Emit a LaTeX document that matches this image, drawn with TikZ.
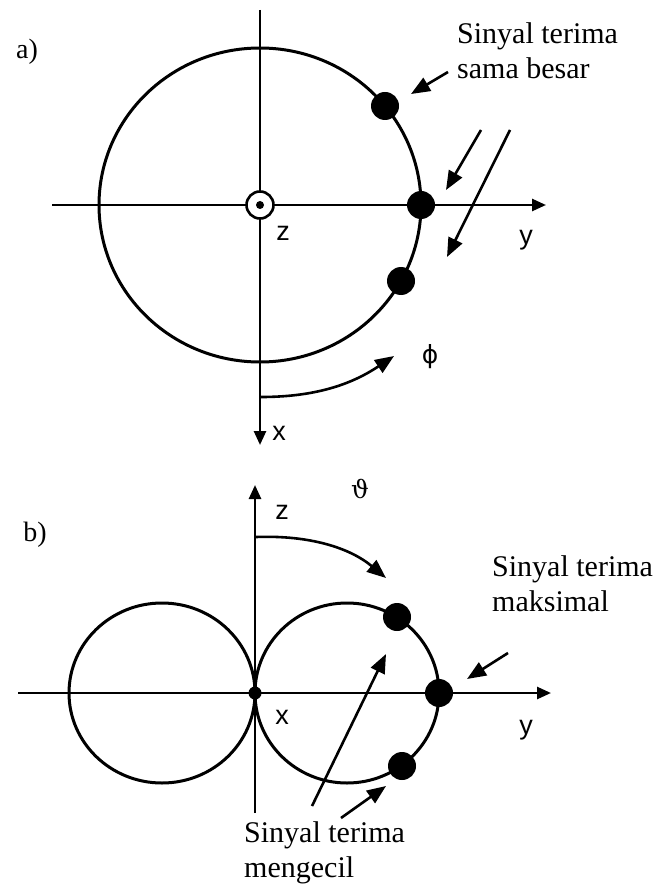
\documentclass[tikz,border=0pt]{standalone}
\usepackage{fontspec}
\setmainfont{Liberation Serif}
\newfontfamily\axfont{Liberation Sans}
\newfontfamily\grkserif{DejaVu Serif}
\newfontfamily\grksans{DejaVu Sans}
\usetikzlibrary{arrows.meta, positioning, calc}

\begin{document}
\begin{tikzpicture}[x=1pt,y=-1pt,
	axis/.style={line width=2.6pt,-{Triangle[length=14pt,width=12pt]}},
	lobe/.style={line width=3pt},
	ptr/.style={line width=2.6pt,-{Triangle[length=19pt,width=15pt]}},
	hit/.style={circle,fill=black,inner sep=0pt,minimum size=28pt},
	note/.style={font=\fontsize{30}{35}\selectfont,align=left,inner sep=0pt,anchor=north west},
	axlab/.style={font=\axfont\fontsize{27}{27}\selectfont,inner sep=0pt},
	tag/.style={font=\fontsize{28}{28}\selectfont,inner sep=0pt}]
	\useasboundingbox (0,0) rectangle (666,890);
	% a) azimut
	\coordinate (oa) at (260,205);
	\coordinate (ya0) at (52,205);
	\coordinate (ya1) at (546,205);
	\coordinate (xa0) at (260,10);
	\coordinate (xa1) at (260,445);
	\draw[axis] (ya0) -- (ya1);
	\draw[axis] (xa0) -- (xa1);
	\draw[lobe] (oa) ellipse[x radius=161,y radius=157];
	\node[circle,draw,line width=2.6pt,fill=white,minimum size=27pt,inner sep=0pt] (zdot) at (oa) {};
	\fill (zdot.center) circle (4);
	\node[hit] (a1) at (385,106) {};
	\node[hit] (a2) at (421,205) {};
	\node[hit] (a3) at (401,281) {};
	\node[axlab] (za) at (283,233) {z};
	\node[axlab] (ya) at (526,240) {y};
	\node[axlab] (xa) at (279,433) {x};
	\node[tag] (pa) at (27,52) {a)};
	\node[note] (sama) at (457,22) {Sinyal terima\\sama besar};
	\coordinate (s0) at (448,72);
	\coordinate (s1) at (411,94);
	\draw[ptr] (s0) -- (s1);
	\coordinate (w0) at (481,130);
	\coordinate (w1) at (446,190);
	\coordinate (v0) at (510,130);
	\coordinate (v1) at (447,257);
	\draw[ptr] (w0) -- (w1);
	\draw[ptr] (v0) -- (v1);
	\coordinate (p0) at (261,397);
	\coordinate (p1) at (394,356);
	\draw[ptr] (p0) .. controls (320,397) and (355,382) .. (p1);
	\node[font=\grksans\fontsize{25}{25}\selectfont,inner sep=0pt] (phi) at (430,357) {ϕ};
	% b) elevasi
	\coordinate (ob) at (255,693);
	\coordinate (yb0) at (18,693);
	\coordinate (yb1) at (551,693);
	\coordinate (zb0) at (255,813);
	\coordinate (zb1) at (255,485);
	\draw[axis] (yb0) -- (yb1);
	\draw[axis] (zb0) -- (zb1);
	\draw[lobe] (162,693) ellipse[x radius=93,y radius=90];
	\draw[lobe] (347,693) ellipse[x radius=92,y radius=90];
	\fill (ob) circle (6.5);
	\node[hit] (b1) at (397,617) {};
	\node[hit] (b2) at (439,693) {};
	\node[hit] (b3) at (402,766) {};
	\node[axlab] (zb) at (282,512) {z};
	\node[axlab] (xb) at (282,717) {x};
	\node[axlab] (yb) at (526,730) {y};
	\node[tag] (pb) at (35,535) {b)};
	\node[font=\grkserif\fontsize{25}{25}\selectfont,inner sep=0pt] (theta) at (360,489) {ϑ};
	\coordinate (t0) at (256,537);
	\coordinate (t1) at (386,578);
	\draw[ptr] (t0) .. controls (310,535) and (350,548) .. (t1);
	\node[note] (maks) at (492,555) {Sinyal terima\\maksimal};
	\coordinate (m0) at (508,653);
	\coordinate (m1) at (467,679);
	\draw[ptr] (m0) -- (m1);
	\node[note] (kecil) at (244,821) {Sinyal terima\\mengecil};
	\coordinate (k0) at (312,806);
	\coordinate (k1) at (386,654);
	\coordinate (k2) at (341,818);
	\coordinate (k3) at (386,786);
	\draw[ptr] (k0) -- (k1);
	\draw[ptr] (k2) -- (k3);
\end{tikzpicture}
\end{document}
